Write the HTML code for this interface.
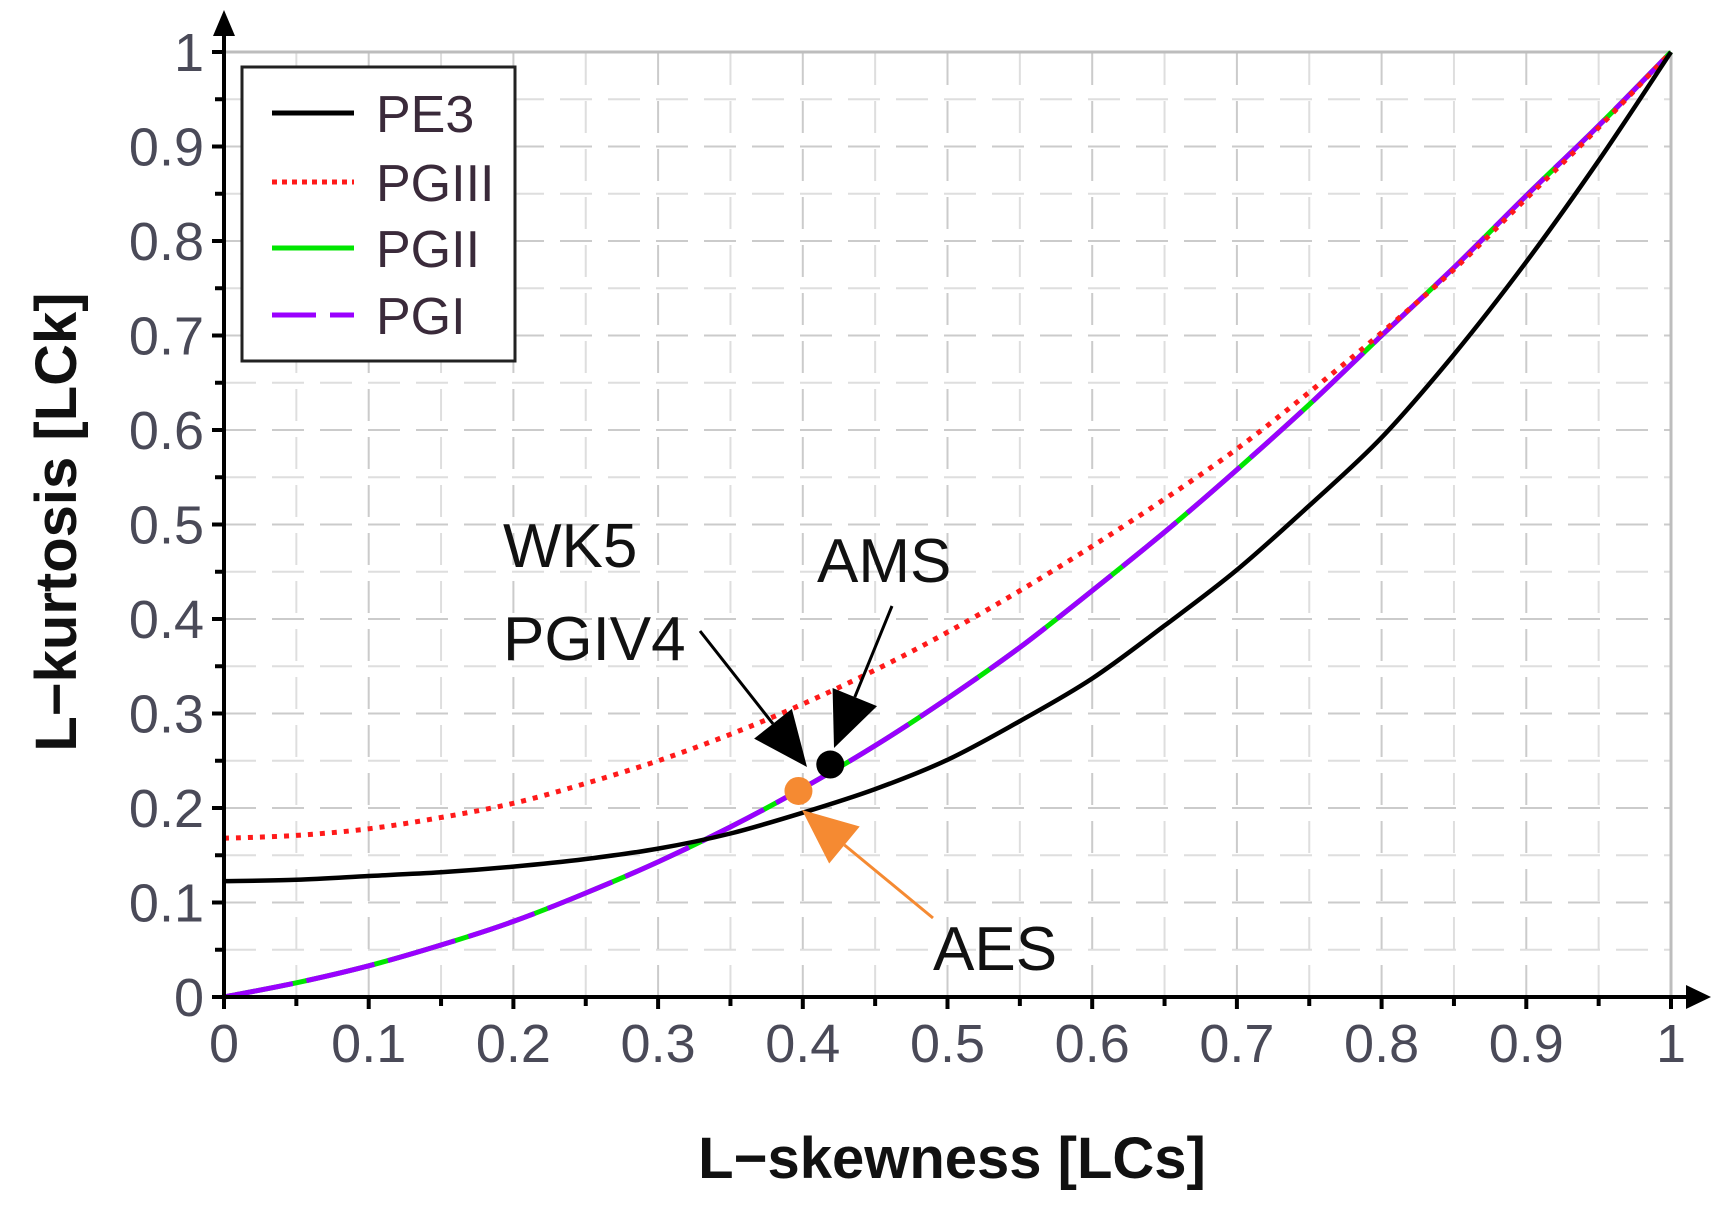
<!DOCTYPE html>
<html><head><meta charset="utf-8"><style>
html,body{margin:0;padding:0;background:#fff;}
svg{display:block;font-family:"Liberation Sans",Arial,sans-serif;}
</style></head><body>
<svg id="chart" width="1726" height="1210" viewBox="0 0 1726 1210" xmlns="http://www.w3.org/2000/svg">
<g id="grid"></g>
<g id="series"></g>
<g id="axes"></g>
<g id="annot"></g>
<g id="legend"></g>
</svg>
<script>
const xTicks = [0,0.1,0.2,0.3,0.4,0.5,0.6,0.7,0.8,0.9,1];
const xTickLabels = ["0","0.1","0.2","0.3","0.4","0.5","0.6","0.7","0.8","0.9","1"];
const yTicks = [0,0.1,0.2,0.3,0.4,0.5,0.6,0.7,0.8,0.9,1];
const yTickLabels = ["0","0.1","0.2","0.3","0.4","0.5","0.6","0.7","0.8","0.9","1"];
const lcs = [0,0.05,0.1,0.15,0.2,0.25,0.3,0.35,0.4,0.45,0.5,0.55,0.6,0.65,0.7,0.75,0.8,0.85,0.9,0.95,1];
const pe3 = [0.1226,0.124,0.128,0.132,0.138,0.146,0.157,0.173,0.195,0.22,0.251,0.292,0.337,0.393,0.452,0.52,0.592,0.68,0.778,0.885,1.0];
const pg3 = [0.168,0.171,0.178,0.19,0.205,0.226,0.25,0.278,0.31,0.346,0.386,0.43,0.477,0.527,0.58,0.64,0.703,0.77,0.845,0.92,1.0];
const pg2 = [0,0.015,0.033,0.055,0.08,0.11,0.143,0.18,0.221,0.266,0.316,0.37,0.43,0.492,0.558,0.627,0.7,0.772,0.848,0.922,1.0];
const pg1 = pg2.slice();
const pointsX = [0.397,0.419];
const pointsY = [0.218,0.246];
const pointNames = ["aes-point","ams-point"];
const pointColors = ["#f58a32","#000"];

const X0=224,X1=1671,Y0=997,Y1=52;
const sx=v=>X0+(X1-X0)*v, sy=v=>Y0-(Y0-Y1)*v;
const NS="http://www.w3.org/2000/svg";
function mk(tag,attrs,parent,text){const e=document.createElementNS(NS,tag);for(const k in attrs)e.setAttribute(k,attrs[k]);if(text!==undefined)e.textContent=text;parent.appendChild(e);return e;}
const grid=document.getElementById('grid'),axes=document.getElementById('axes'),ser=document.getElementById('series'),ann=document.getElementById('annot'),leg=document.getElementById('legend');

for(let i=1;i<20;i++){const v=i/20,maj=i%2==0,col=maj?'#cbcbcb':'#dedede';
 let g=mk('line',{x1:sx(v),x2:sx(v),y1:Y0,y2:Y1,stroke:col,'stroke-width':2,'stroke-dasharray':'32 16'},grid);
 
 g=mk('line',{x1:X0,x2:X1,y1:sy(v),y2:sy(v),stroke:col,'stroke-width':2,'stroke-dasharray':'32 16'},grid);
 
}
let b=mk('line',{x1:X0,x2:X1,y1:Y1,y2:Y1,stroke:'#bdbdbd','stroke-width':3},grid);

b=mk('line',{x1:X1,x2:X1,y1:Y1,y2:Y0,stroke:'#bdbdbd','stroke-width':3},grid);


function path(ys){
 const P=lcs.map((x,i)=>[sx(x),sy(ys[i])]);
 let d='M'+P[0][0].toFixed(1)+' '+P[0][1].toFixed(1);
 for(let i=0;i<P.length-1;i++){
  const p0=P[Math.max(0,i-1)],p1=P[i],p2=P[i+1],p3=P[Math.min(P.length-1,i+2)];
  const c1=[p1[0]+(p2[0]-p0[0])/6,p1[1]+(p2[1]-p0[1])/6];
  const c2=[p2[0]-(p3[0]-p1[0])/6,p2[1]-(p3[1]-p1[1])/6];
  d+=` C${c1[0].toFixed(1)} ${c1[1].toFixed(1)} ${c2[0].toFixed(1)} ${c2[1].toFixed(1)} ${p2[0].toFixed(1)} ${p2[1].toFixed(1)}`;
 }
 return d;}
let p=mk('path',{d:path(pg2),fill:'none',stroke:'#00e600','stroke-width':5},ser);

p=mk('path',{d:path(pg1),fill:'none',stroke:'#9a00ff','stroke-width':5,'stroke-dasharray':'70 14'},ser);

p=mk('path',{d:path(pg3),fill:'none',stroke:'#ff1a1a','stroke-width':5,'stroke-dasharray':'5 7'},ser);

p=mk('path',{d:path(pe3),fill:'none',stroke:'#000','stroke-width':4.5},ser);


let a=mk('line',{x1:X0,x2:X0,y1:Y0+8,y2:30,stroke:'#000','stroke-width':4},axes);

a=mk('polygon',{points:`${X0-11},36 ${X0+11},36 ${X0},10`,fill:'#000'},axes);

a=mk('line',{x1:X0-12,x2:1690,y1:Y0,y2:Y0,stroke:'#000','stroke-width':4},axes);

a=mk('polygon',{points:`1686,${Y0-12} 1686,${Y0+12} 1711,${Y0}`,fill:'#000'},axes);

for(let i=0;i<=20;i++){const v=i/20,maj=i%2==0;
 let t=mk('line',{x1:sx(v),x2:sx(v),y1:Y0,y2:Y0+(maj?12:9),stroke:'#000','stroke-width':4},axes);
 
 t=mk('line',{x1:X0-(maj?12:9),x2:X0,y1:sy(v),y2:sy(v),stroke:'#000','stroke-width':4},axes);
 
}
xTicks.forEach((v,i)=>{const t=mk('text',{x:sx(v),y:1062,'font-size':54,'text-anchor':'middle',fill:'#4a4a58'},axes,xTickLabels[i]);
 });
yTicks.forEach((v,i)=>{const t=mk('text',{x:204,y:sy(v)+19,'font-size':54,'text-anchor':'end',fill:'#4a4a58'},axes,yTickLabels[i]);
 });
let tt=mk('text',{x:952,y:1178,'font-size':58,'font-weight':'bold','text-anchor':'middle',fill:'#111'},axes,'L\u2212skewness [LCs]');

tt=mk('text',{x:0,y:0,'font-size':58,'font-weight':'bold','text-anchor':'middle',fill:'#111',transform:'translate(76,522) rotate(-90)'},axes,'L\u2212kurtosis [LCk]');


pointsX.forEach((x,i)=>{const c=mk('circle',{cx:sx(x),cy:sy(pointsY[i]),r:14,fill:pointColors[i]},ann);
 });

function arrow(x1,y1,x2,y2,col,w,name){const g=mk('g',{},ann);
 
 const dx=x2-x1,dy=y2-y1,L=Math.hypot(dx,dy),ux=dx/L,uy=dy/L,h=55,hw=24;
 const bx=x2-ux*h,by=y2-uy*h;
 mk('line',{x1:x1,y1:y1,x2:bx,y2:by,stroke:col,'stroke-width':w},g);
 mk('polygon',{points:`${x2},${y2} ${bx-uy*hw},${by+ux*hw} ${bx+uy*hw},${by-ux*hw}`,fill:col},g);}
arrow(700,631,807,767,'#000',3,'pgiv4-arrow');
arrow(892,606,834,748,'#000',3,'ams-arrow');
arrow(933,918,802,810,'#f58a32',3,'aes-arrow');
const labs=[['WK5',503,567,'wk5-label'],['PGIV4',503,660,'pgiv4-label'],['AMS',817,582,'ams-label'],['AES',933,970,'aes-label']];
labs.forEach(l=>{const t=mk('text',{x:l[1],y:l[2],'font-size':62,fill:'#111'},ann,l[0]);
 });

const lb=mk('rect',{x:242,y:67,width:273,height:294,fill:'#fff',stroke:'#222','stroke-width':3},leg);

const legNames=['PE3','PGIII','PGII','PGI'];
const legY=[113,182,248,315];
const legStyles=[{stroke:'#000'},{stroke:'#ff1a1a','stroke-dasharray':'5 5'},{stroke:'#00e600'},{stroke:'#9a00ff','stroke-dasharray':'44 14'}];
legNames.forEach((n,i)=>{const g=mk('g',{},leg);
 
 mk('line',Object.assign({x1:272,x2:354,y1:legY[i],y2:legY[i],'stroke-width':5},legStyles[i]),g);
 mk('text',{x:376,y:legY[i]+19,'font-size':52,fill:'#3a2a3a'},g,n);});
</script>
</body></html>
